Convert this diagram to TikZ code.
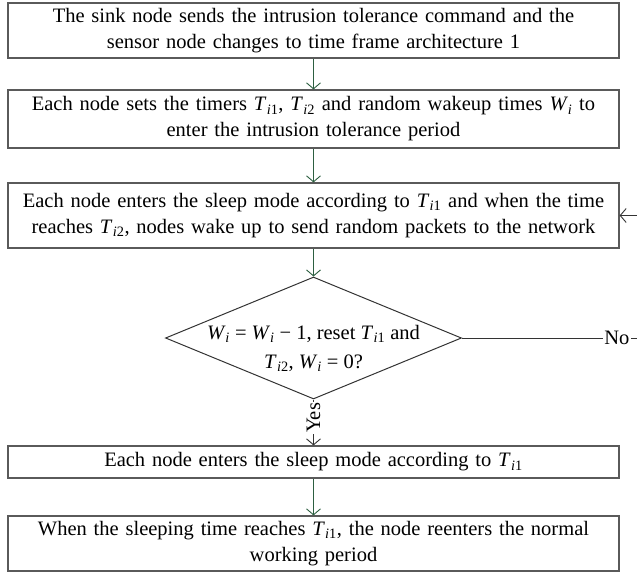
\documentclass[tikz,border=0pt]{standalone}
\usepackage{fontspec}
\setmainfont{Liberation Serif}
\usetikzlibrary{arrows.meta,shapes.geometric}
\newcommand{\Tsb}[1]{\textit{T}\kern0.3pt\textsubscript{\textit{i}#1}}
\newcommand{\Wsb}{\textit{W}\kern-0.3pt\textsubscript{\textit{i}}}
\definecolor{arrgreen}{RGB}{45,95,65}
\definecolor{boxgray}{RGB}{90,90,90}
\begin{document}
\begin{tikzpicture}[x=1pt,y=1pt,
  every node/.style={font=\fontsize{20.5}{26}\selectfont},
  stepbox/.style={draw=boxgray,line width=1.2pt,minimum width=611pt,inner sep=0pt,align=center,text width=606pt},
  garrow/.style={draw=arrgreen,line width=0.9pt,-{Straight Barb[length=6pt,width=14pt]}},
  karrow/.style={draw=black!80,line width=0.9pt,-{Straight Barb[length=6pt,width=14pt]}}]
\useasboundingbox (0,0) rectangle (637,574);
\node[stepbox,minimum height=55pt] (b1) at (313.5,543.5) {The sink node sends the intrusion tolerance command and the\\sensor node changes to time frame architecture 1};
\node[stepbox,minimum height=58pt] (b2) at (313.5,455) {Each node sets the timers \Tsb{1}, \Tsb{2} and random wakeup times \Wsb{} to\\enter the intrusion tolerance period};
\node[stepbox,minimum height=65pt] (b3) at (313.5,358.5) {Each node enters the sleep mode according to \Tsb{1} and when the time\\reaches \Tsb{2}, nodes wake up to send random packets to the network};
\node[diamond,draw=black!80,line width=1pt,minimum width=296pt,minimum height=122pt,inner sep=0pt] (dia) at (313.5,236) {};
\node[align=center,inner sep=0pt,font=\fontsize{20.5}{29}\selectfont] (diatxt) at (313.5,226) {\Wsb{} = \Wsb{} − 1, reset \Tsb{1} and\\\Tsb{2}, \Wsb{} = 0?};
\node[stepbox,minimum height=32pt] (b4) at (313.5,112) {Each node enters the sleep mode according to \Tsb{1}};
\node[stepbox,minimum height=55pt] (b5) at (313.5,30.5) {When the sleeping time reaches \Tsb{1}, the node reenters the normal\\working period};
\draw[garrow] (b1.south) -- (b2.north);
\draw[garrow] (b2.south) -- (b3.north);
\draw[garrow] (b3.south) -- (dia.north);
\draw[karrow] (dia.south) -- node[pos=0.4,rotate=90,fill=white,inner sep=1pt] (yes) {Yes} (b4.north);
\draw[garrow] (b4.south) -- (b5.north);
\coordinate (nend) at (637,236);
\draw[draw=black!80,line width=0.9pt] (dia.east) -- node[pos=0.885,fill=white,inner sep=1.5pt] (no) {No} (nend);
\coordinate (rin) at (637,358.5);
\draw[karrow] (rin) -- (b3.east);
\end{tikzpicture}
\end{document}
